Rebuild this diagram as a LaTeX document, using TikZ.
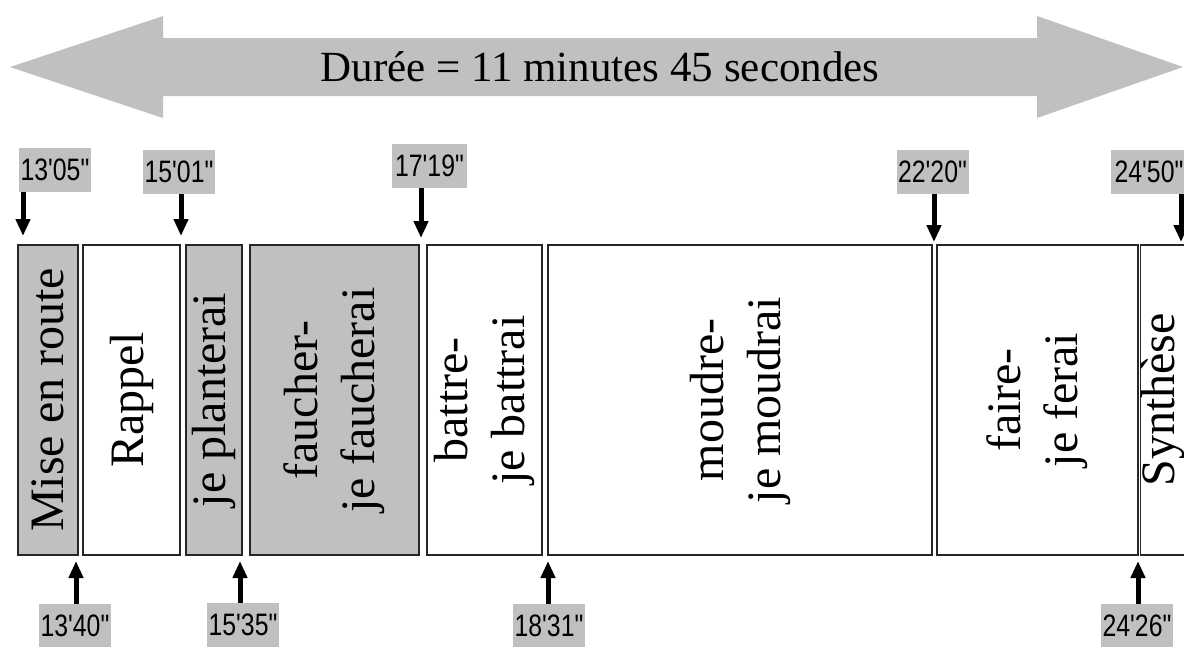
\documentclass[tikz,border=0pt]{standalone}
\usepackage{fontspec}
\setmainfont{Liberation Serif}
\newfontfamily\lblfont[Ligatures=TeXOff]{Liberation Sans}
\usetikzlibrary{arrows.meta}
\definecolor{lg}{HTML}{C0C0C0}
\newcommand\tlbl[1]{\scalebox{0.8}[1]{#1}}
\begin{document}
\begin{tikzpicture}[x=1pt,y=-1pt,
  boxbase/.style={draw=black!85, line width=1.6pt, rotate=90, inner sep=0pt,
    minimum width=310pt, align=center, font=\fontsize{48}{57}\selectfont},
  gbox/.style={boxbase, fill=lg},
  wbox/.style={boxbase, fill=white},
  tlab/.style={fill=lg, minimum width=72pt, minimum height=44pt, inner sep=0pt,
    font=\lblfont\fontsize{31}{34}\selectfont},
  tarrow/.style={line width=5pt, -{Triangle[width=14pt,length=17pt]}, black}
]
\useasboundingbox (0,0) rectangle (1184,646);
\fill[white] (0,0) rectangle (1184,646);
% big double arrow
\fill[lg] (10,67) -- (163,16) -- (163,38) -- (1037,38) -- (1037,16) -- (1183,67)
  -- (1037,118) -- (1037,96) -- (163,96) -- (163,118) -- cycle;
\node[font=\fontsize{43}{50}\selectfont, anchor=base, inner sep=0pt] (dur) at (600,81)
  {Durée = 11 minutes 45 secondes};
% boxes
\node[gbox, minimum height=60pt]  (b1) at (48,400)   {Mise en route};
\node[wbox, minimum height=97pt]  (b2) at (131.5,400) {Rappel};
\node[gbox, minimum height=56pt]  (b3) at (214,400)  {je planterai};
\node[gbox, minimum height=169pt] (b4) at (334.5,400) {faucher-\\je faucherai};
\node[wbox, minimum height=115pt] (b5) at (484.5,400) {battre-\\je battrai};
\node[wbox, minimum height=384pt] (b6) at (740,400)  {moudre-\\je moudrai};
\node[wbox, minimum height=201pt] (b7) at (1037.5,400) {faire-\\je ferai};
\node[wbox, minimum height=41pt]  (b8) at (1162.5,400) {Synthèse};
% arrow tip points
\coordinate (t1) at (23,236);
\coordinate (t2) at (181,236);
\coordinate (t3) at (421,238);
\coordinate (t4) at (934,242);
\coordinate (t5) at (1181,242);
\coordinate (u1) at (76,561);
\coordinate (u2) at (240,561);
\coordinate (u3) at (548,561);
\coordinate (u4) at (1138,561);
% top labels
\node[tlab] (l1) at (55,170)    {\tlbl{13'05"}};
\node[tlab] (l2) at (179,172)   {\tlbl{15'01"}};
\node[tlab, minimum width=75pt] (l3) at (429.5,166) {\tlbl{17'19"}};
\node[tlab] (l4) at (932.5,172) {\tlbl{22'20"}};
\node[tlab, minimum width=76pt] (l5) at (1149,172) {\tlbl{24'50"}};
% bottom labels
\node[tlab] (m1) at (75,626)   {\tlbl{13'40"}};
\node[tlab] (m2) at (243,625)  {\tlbl{15'35"}};
\node[tlab] (m3) at (549,626)  {\tlbl{18'31"}};
\node[tlab] (m4) at (1137,626) {\tlbl{24'26"}};
% arrows
\draw[tarrow] (l1.south -| t1) -- (t1);
\draw[tarrow] (l2.south -| t2) -- (t2);
\draw[tarrow] (l3.south -| t3) -- (t3);
\draw[tarrow] (l4.south -| t4) -- (t4);
\draw[tarrow] (l5.south -| t5) -- (t5);
\draw[tarrow] (m1.north -| u1) -- (u1);
\draw[tarrow] (m2.north -| u2) -- (u2);
\draw[tarrow] (m3.north -| u3) -- (u3);
\draw[tarrow] (m4.north -| u4) -- (u4);
\end{tikzpicture}
\end{document}
